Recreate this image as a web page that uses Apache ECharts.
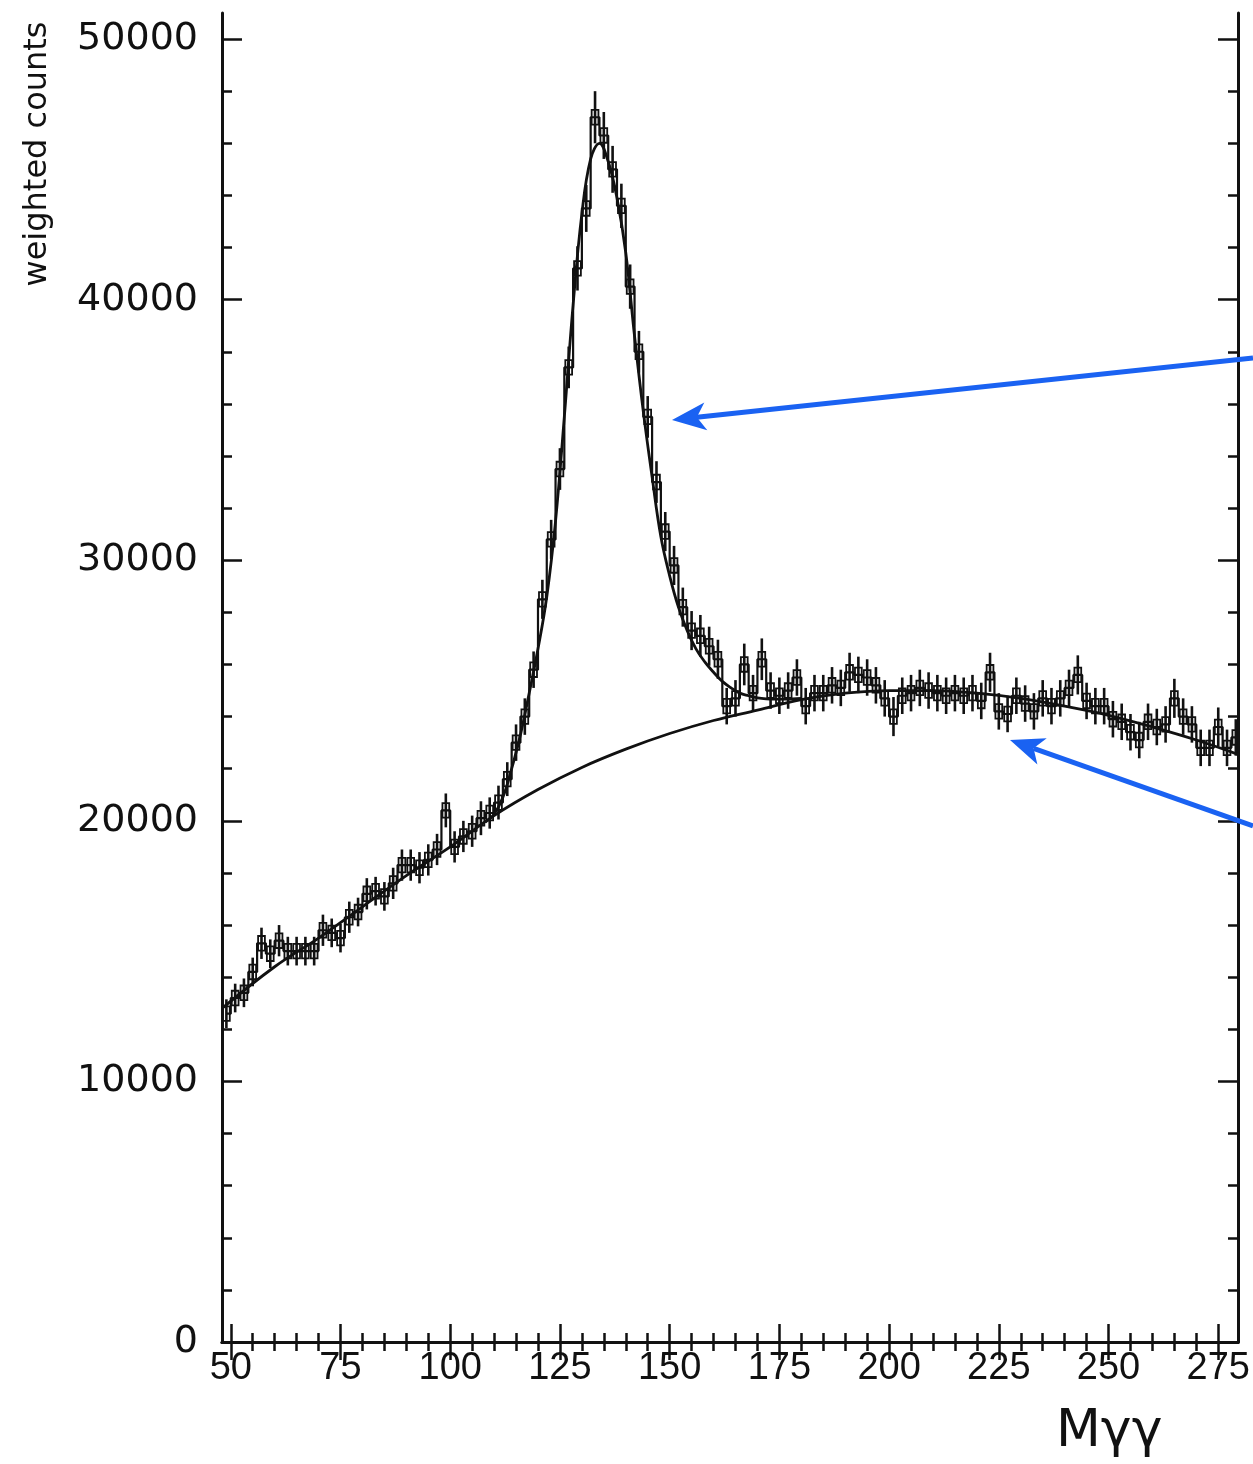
<!DOCTYPE html>
<html>
<head>
<meta charset="utf-8">
<title>weighted counts vs Mγγ</title>
<script src="https://cdn.jsdelivr.net/npm/echarts@6/dist/echarts.min.js"></script>
<style>
  html, body { margin: 0; padding: 0; background: #fff; }
  #chart { width: 1253px; height: 1464px; }
</style>
</head>
<body>
<div id="chart"></div>
<script>
// histogram bins (2 units wide)
var binCenters = [49, 51, 53, 55, 57, 59, 61, 63, 65, 67, 69, 71, 73, 75, 77, 79, 81, 83, 85, 87,
  89, 91, 93, 95, 97, 99, 101, 103, 105, 107, 109, 111, 113, 115, 117, 119, 121, 123, 125, 127,
  129, 131, 133, 135, 137, 139, 141, 143, 145, 147, 149, 151, 153, 155, 157, 159, 161, 163, 165, 167,
  169, 171, 173, 175, 177, 179, 181, 183, 185, 187, 189, 191, 193, 195, 197, 199, 201, 203, 205, 207,
  209, 211, 213, 215, 217, 219, 221, 223, 225, 227, 229, 231, 233, 235, 237, 239, 241, 243, 245, 247,
  249, 251, 253, 255, 257, 259, 261, 263, 265, 267, 269, 271, 273, 275, 277, 279];
var counts = [12600, 13200, 13400, 14200, 15300, 14900, 15400, 15000, 15000, 15000, 15000, 15800, 15700, 15500, 16300, 16500, 17200, 17300, 17100, 17600,
  18300, 18300, 18200, 18500, 18900, 20400, 19000, 19400, 19600, 20100, 20300, 20700, 21600, 23000, 24000, 25800, 28500, 30800, 33500, 37400,
  41200, 43500, 47000, 46300, 45000, 43600, 40500, 38000, 35500, 33000, 31100, 29800, 28200, 27300, 27100, 26700, 26200, 24400, 24700, 26000,
  24900, 26200, 25000, 24800, 25000, 25500, 24400, 24900, 24900, 25200, 25100, 25700, 25600, 25500, 25200, 24700, 24000, 24800, 24900, 25100,
  25000, 24900, 24800, 24900, 24800, 24900, 24600, 25700, 24200, 24100, 24800, 24500, 24200, 24700, 24400, 24700, 25100, 25600, 24600, 24400,
  24400, 23900, 23800, 23400, 23100, 23800, 23600, 23700, 24700, 24000, 23700, 22800, 22800, 23600, 22800, 23200];
var errors = [550, 550, 550, 550, 600, 550, 600, 550, 550, 550, 550, 600, 550, 550, 600, 550, 600, 550, 550, 600,
  600, 600, 600, 600, 600, 650, 600, 600, 600, 650, 600, 650, 650, 700, 700, 700, 750, 750, 800, 800,
  850, 900, 1000, 900, 900, 850, 850, 800, 800, 800, 750, 750, 750, 750, 800, 750, 750, 700, 700, 800,
  700, 800, 700, 700, 700, 700, 700, 700, 700, 700, 700, 750, 700, 700, 700, 700, 750, 700, 700, 700,
  700, 700, 700, 700, 700, 700, 700, 750, 700, 700, 700, 700, 700, 700, 700, 700, 700, 750, 700, 700,
  700, 700, 700, 700, 700, 700, 700, 700, 750, 700, 700, 700, 700, 750, 700, 700];

// background fit curve
var bgX = [48, 60, 70, 80, 90, 100, 110, 120, 130, 140, 150, 160, 170, 180, 190, 200, 210, 220, 230, 240,
  250, 260, 270, 279.5];
var bgY = [12800, 14400, 15500, 16700, 17900, 19000, 20200, 21200, 22050, 22750, 23350, 23850, 24250, 24650, 24900, 25000, 25000, 24900, 24700, 24400,
  24050, 23600, 23100, 22550];

// total fit (signal + background) around the peak
var fitX = [108, 110, 112, 114, 116, 118, 120, 122, 124, 126, 128, 130, 132, 134, 136, 138, 140, 142, 144, 146,
  148, 150, 152, 154, 156, 158, 160, 162, 164, 166, 168, 170, 172, 174, 176, 178, 180];
var fitY = [19950, 20250, 20900, 22000, 23300, 24900, 26600, 28600, 31500, 35500, 39800, 43300, 45400, 46000, 45300, 43900, 41800, 38600, 35700, 33200,
  30900, 29400, 28200, 27300, 26600, 26100, 25700, 25350, 25100, 24900, 24800, 24720, 24680, 24670, 24670, 24680, 24700];

// axis ticks
var xMajor = [50, 75, 100, 125, 150, 175, 200, 225, 250, 275];
var xMinor = [50, 55, 60, 65, 70, 75, 80, 85, 90, 95, 100, 105, 110, 115, 120, 125, 130, 135, 140, 145,
  150, 155, 160, 165, 170, 175, 180, 185, 190, 195, 200, 205, 210, 215, 220, 225, 230, 235, 240, 245,
  250, 255, 260, 265, 270, 275];
var yMajor = [0, 10000, 20000, 30000, 40000, 50000];
var yMinor = [0, 2000, 4000, 6000, 8000, 10000, 12000, 14000, 16000, 18000, 20000, 22000, 24000, 26000, 28000,
  30000, 32000, 34000, 36000, 38000, 40000, 42000, 44000, 46000, 48000, 50000];

var ink = '#111';
var arrowBlue = '#1a62f2';
var binHalf = 1;
var boxHalf = 280;

var chart = echarts.init(document.getElementById('chart'));

var histData = [];
var binData = [];
for (var i = 0; i < binCenters.length; i++) {
  histData.push([binCenters[i], counts[i]]);
  binData.push([binCenters[i], counts[i], errors[i]]);
}
var bgData = bgX.map(function (x, i) { return [x, bgY[i]]; });
var fitData = fitX.map(function (x, i) { return [x, fitY[i]]; });

function xAxisOf(pos, ticks, len, major) {
  return {
    type: 'value', position: pos, min: 48, max: 279.5,
    splitLine: { show: false },
    axisLine: { show: major, lineStyle: { color: ink, width: 3 } },
    axisTick: { show: true, inside: true, length: len, customValues: ticks, lineStyle: { color: ink, width: 2.5 } },
    axisLabel: {
      show: major && pos === 'bottom', customValues: xMajor, margin: 8,
      color: ink, fontSize: 38, fontFamily: 'Liberation Sans'
    }
  };
}
function yAxisOf(pos, ticks, len, major) {
  return {
    type: 'value', position: pos, min: 0, max: 51000,
    splitLine: { show: false },
    axisLine: { show: major, lineStyle: { color: ink, width: 3 } },
    axisTick: { show: true, inside: true, length: len, customValues: ticks, lineStyle: { color: ink, width: 2.5 } },
    axisLabel: {
      show: major && pos === 'left', customValues: yMajor, margin: 24,
      color: ink, fontSize: 38, fontFamily: 'DejaVu Sans',
      formatter: function (v) { return String(v); }
    }
  };
}

function renderBin(params, api) {
  var x = api.value(0), y = api.value(1), e = api.value(2);
  var a = api.coord([x - binHalf, y + boxHalf]);
  var b = api.coord([x + binHalf, y - boxHalf]);
  var t = api.coord([x, y + e]);
  var d = api.coord([x, y - e]);
  return {
    type: 'group',
    children: [
      { type: 'rect', shape: { x: a[0] + 1, y: a[1], width: b[0] - a[0] - 2, height: b[1] - a[1] },
        style: { fill: 'none', stroke: ink, lineWidth: 1.8 } },
      { type: 'line', shape: { x1: t[0], y1: t[1], x2: d[0], y2: d[1] },
        style: { stroke: ink, lineWidth: 2.6 } }
    ]
  };
}

// arrow annotation in pixels
function arrow(x1, y1, x2, y2) {
  var dx = x2 - x1, dy = y2 - y1;
  var L = Math.sqrt(dx * dx + dy * dy);
  var ux = dx / L, uy = dy / L;
  var hl = 34, hw = 14;
  var bx = x2 - ux * hl, by = y2 - uy * hl;
  var nx = bx + ux * 9, ny = by + uy * 9;
  return [
    { type: 'line', shape: { x1: x1, y1: y1, x2: nx, y2: ny }, style: { stroke: arrowBlue, lineWidth: 5 }, z: 100 },
    { type: 'polygon', shape: { points: [[x2, y2], [bx - uy * hw, by + ux * hw], [nx, ny], [bx + uy * hw, by - ux * hw]] },
      style: { fill: arrowBlue }, z: 100 }
  ];
}

chart.setOption({
  backgroundColor: '#fff',
  animation: false,
  grid: { left: 222, right: 15, top: 13, bottom: 122 },
  xAxis: [
    xAxisOf('bottom', xMajor, 18, true),
    xAxisOf('bottom', xMinor, 9, false),
    xAxisOf('top', xMajor, 18, true),
    xAxisOf('top', xMinor, 9, false)
  ],
  yAxis: [
    yAxisOf('left', yMajor, 20, true),
    yAxisOf('left', yMinor, 10, false),
    yAxisOf('right', yMajor, 20, true),
    yAxisOf('right', yMinor, 10, false)
  ],
  graphic: [
    { type: 'text', x: 38, y: 154, rotation: Math.PI / 2,
      style: { text: 'weighted counts', fontSize: 32, fontFamily: 'DejaVu Sans', fill: ink,
        align: 'center', verticalAlign: 'middle' } },
    { type: 'text', x: 1056, y: 1432,
      style: { text: 'Mγγ', fontSize: 52, fontFamily: 'DejaVu Sans', fill: ink,
        align: 'left', verticalAlign: 'middle' } }
  ].concat(arrow(1253, 358, 672, 420)).concat(arrow(1253, 826, 1010, 740)),
  series: [
    {
      name: 'data', type: 'line', step: 'middle', data: histData,
      showSymbol: false, lineStyle: { color: ink, width: 2.2 }, z: 3
    },
    {
      name: 'bins', type: 'custom', data: binData, renderItem: renderBin, clip: true, z: 4
    },
    {
      name: 'background', type: 'line', data: bgData, smooth: 0.4,
      showSymbol: false, lineStyle: { color: ink, width: 2.8 }, z: 5
    },
    {
      name: 'fit', type: 'line', data: fitData, smooth: 0.4,
      showSymbol: false, lineStyle: { color: ink, width: 2.8 }, z: 5
    }
  ]
});
</script>
</body>
</html>
